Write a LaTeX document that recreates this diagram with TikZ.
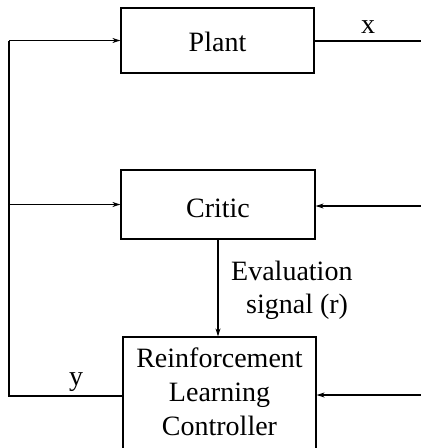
\documentclass[tikz,border=0pt]{standalone}
\usepackage{fontspec}
\setmainfont{Liberation Serif}
\usetikzlibrary{arrows.meta}
\begin{document}
\begin{tikzpicture}[x=1pt,y=-1pt,
  every node/.style={font=\fontsize{28}{34}\selectfont, inner sep=0pt},
  blockbox/.style={draw, line width=1.2pt, rectangle},
  txt/.style={anchor=base},
  wire/.style={line width=1.2pt},
  feed/.style={wire, -{Stealth[length=8pt,width=5pt]}}]
  \path[use as bounding box] (0,0) rectangle (421,448);
  \clip (0,0) rectangle (421,448);

  % blocks
  \node[blockbox, minimum width=193pt, minimum height=65pt] (plant) at (217.5,40.5) {};
  \node[txt] (plantlbl) at (217.5,51) {Plant};
  \node[blockbox, minimum width=194pt, minimum height=69pt] (critic) at (218,204.5) {};
  \node[txt] (criticlbl) at (218,217) {Critic};
  % the controller box runs on past the lower edge
  \node[blockbox, minimum width=193pt, minimum height=114pt] (rl) at (219.5,394) {};
  \node[txt] (rllbla) at (219.5,367) {Reinforcement};
  \node[txt] (rllblb) at (219.5,401.5) {Learning};
  \node[txt] (rllblc) at (219.5,435) {Controller};

  % evaluation signal
  \draw[feed] (critic.south -| 218,0) -- (rl.north -| 218,0);
  \node[txt, anchor=base west] (evala) at (231,280) {Evaluation};
  \node[txt, anchor=base west] (evalb) at (246,313) {signal (r)};

  % feedback of y to plant and critic
  \coordinate (fbcorner) at (9,396);
  \coordinate (xend) at (421,41);
  \coordinate (critin) at (421,206);
  \coordinate (rlin) at (421,395);
  \draw[wire] (rl.west |- fbcorner) -- (fbcorner) -- (fbcorner |- plant.west);
  \draw[feed] (fbcorner |- plant.west) -- (plant.west);
  \draw[feed] (fbcorner |- critic.west) -- (critic.west);
  \node[txt] (ylbl) at (76,385) {y};

  % outputs and external inputs
  \draw[wire] (plant.east |- xend) -- (xend);
  \node[txt] (xlbl) at (368,33) {x};
  \draw[feed] (critin) -- (critin -| critic.east);
  \draw[feed] (rlin) -- (rlin -| rl.east);
\end{tikzpicture}
\end{document}
